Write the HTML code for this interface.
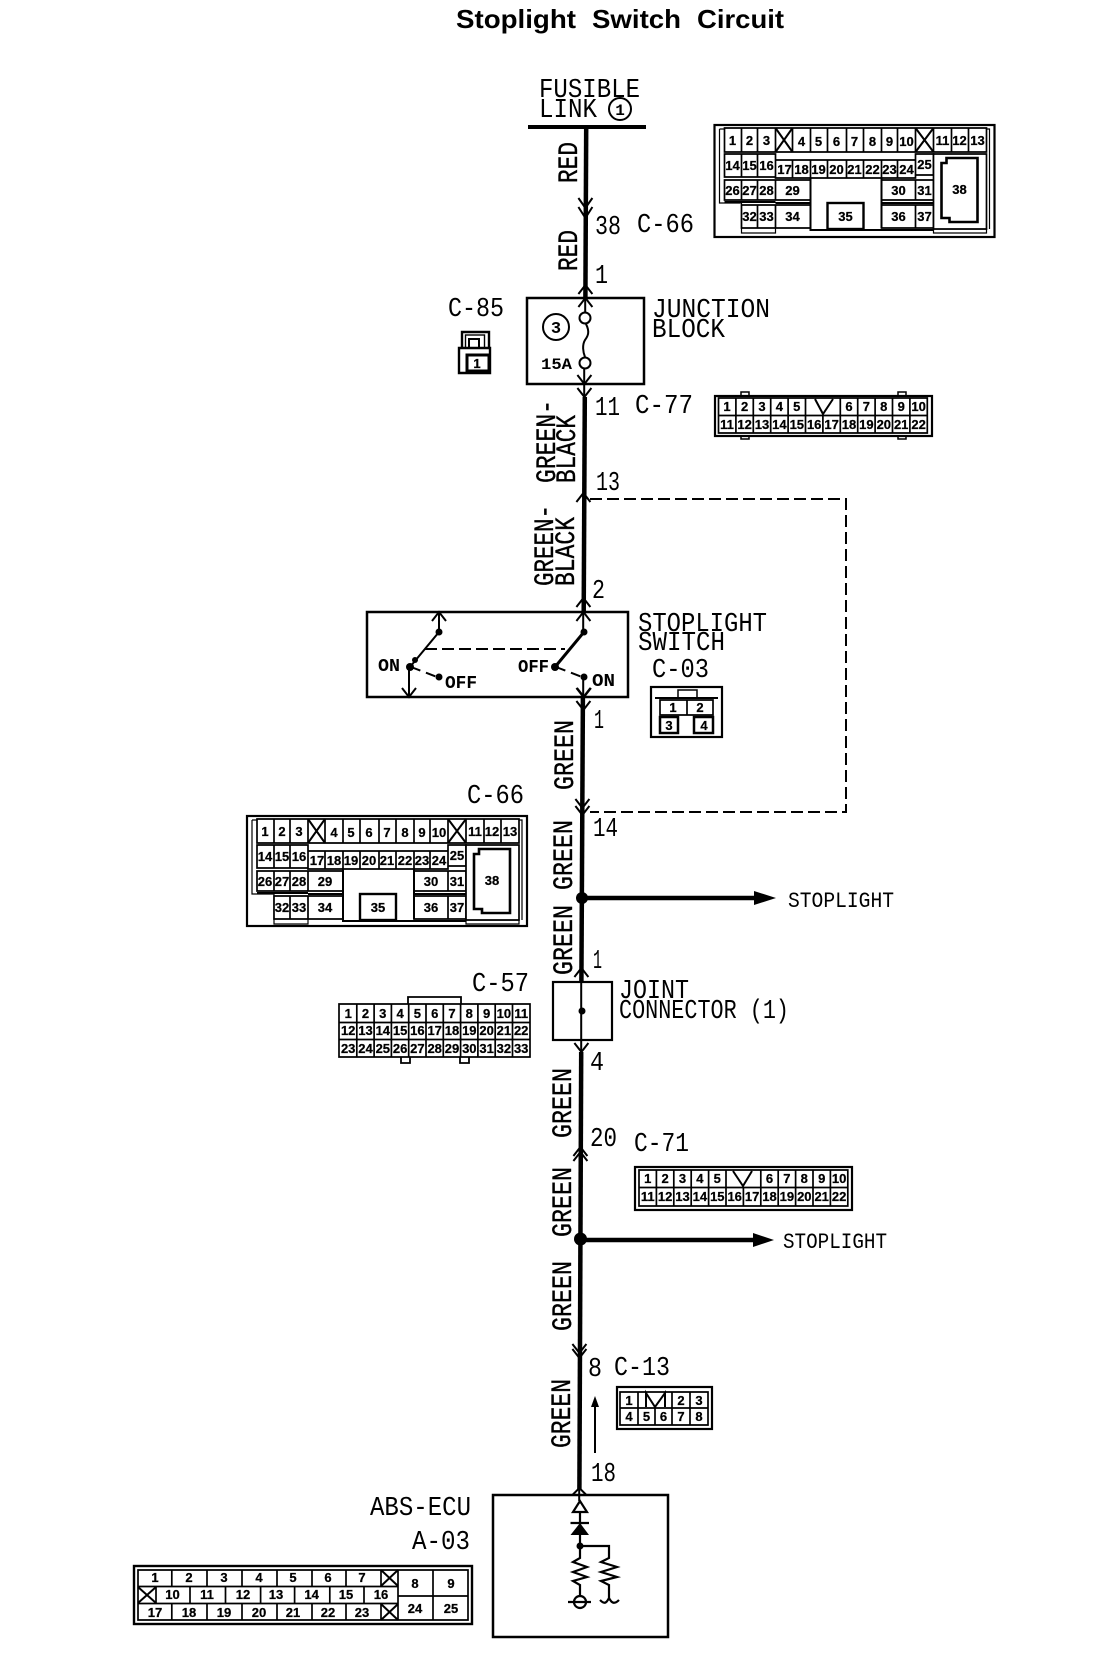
<!DOCTYPE html>
<html><head><meta charset="utf-8"><title>Stoplight Switch Circuit</title>
<style>
html,body{margin:0;padding:0;background:#fff}
svg{display:block}
text{fill:#000;font-family:"Liberation Mono",monospace}
.n{font-family:"Liberation Sans",sans-serif;font-weight:bold;font-size:13px;text-anchor:middle;stroke:#000;stroke-width:.25}
.w text{stroke:#000;stroke-width:.35}
.g{fill:#fff;stroke:#000;stroke-width:1.7}
.l{fill:none;stroke:#000;stroke-width:2}
.f{fill:none;stroke:#000;stroke-width:1.2}
</style></head><body>
<svg width="1120" height="1662" viewBox="0 0 1120 1662" xmlns="http://www.w3.org/2000/svg">
<rect width="1120" height="1662" fill="#fff"/>
<g font-size="26" style="font-weight:bold">
<text x="456" y="28" textLength="120" lengthAdjust="spacingAndGlyphs" style="font-family:'Liberation Sans',sans-serif">Stoplight</text>
<text x="592" y="28" textLength="89" lengthAdjust="spacingAndGlyphs" style="font-family:'Liberation Sans',sans-serif">Switch</text>
<text x="697" y="28" textLength="87" lengthAdjust="spacingAndGlyphs" style="font-family:'Liberation Sans',sans-serif">Circuit</text>
</g>

<text x="539" y="97" font-size="27" textLength="101" lengthAdjust="spacingAndGlyphs">FUSIBLE</text>
<text x="539" y="117" font-size="27" textLength="58" lengthAdjust="spacingAndGlyphs">LINK</text>
<circle cx="620" cy="109" r="11" class="l"/>
<text x="620" y="115" font-size="16" font-weight="bold" text-anchor="middle">1</text>
<rect x="528" y="125" width="118" height="4"/>

<!-- main wire -->
<g fill="none" stroke="#000" stroke-linecap="butt" transform="translate(-0.8,0)">
<path d="M587 127L586.2 298" stroke-width="4.5"/>
<path d="M585.6 397L584.5 612" stroke-width="4.5"/>
<path d="M583.7 697L582.2 982" stroke-width="4.5"/>
<path d="M582 1052L580.2 1490" stroke-width="4.5"/>
<path d="M586 298V312M585 369V397M584 612V632M584 677V697M582 982V1052M580 1490V1501" stroke-width="2"/>
</g>

<!-- chevrons -->
<path class="l" transform="translate(-0.6,0)" d="M579 198L586 208L593 198M579 207L586 218L593 207
M579 294L586 285L593 294M579 307L586 298L593 307
M578 375L585 384L592 375M578 388L585 397L592 388
M577 502L584 493L591 502
M577 607L584 598L591 607M577 621L584 612L591 621
M577 688L584 697L591 688M577 701L584 710L591 701
M576 799L583 808L590 799M576 806L583 815L590 806
M575 977L582 968L589 977
M575 1043L582 1052L589 1043
M574 1156L581 1147L588 1156M574 1161L581 1152L588 1161
M573 1344L580 1353L587 1344M573 1349L580 1358L587 1349
M573 1495L580 1488L587 1495"/>

<!-- wire labels -->
<g font-size="28" class="w">
<text transform="translate(577,183) rotate(-90)" textLength="41" lengthAdjust="spacingAndGlyphs">RED</text>
<text transform="translate(577,271) rotate(-90)" textLength="41" lengthAdjust="spacingAndGlyphs">RED</text>
<text transform="translate(555,483) rotate(-90)" textLength="83" lengthAdjust="spacingAndGlyphs">GREEN-</text>
<text transform="translate(575,483) rotate(-90)" textLength="68" lengthAdjust="spacingAndGlyphs">BLACK</text>
<text transform="translate(553,586) rotate(-90)" textLength="81" lengthAdjust="spacingAndGlyphs">GREEN-</text>
<text transform="translate(574,586) rotate(-90)" textLength="69" lengthAdjust="spacingAndGlyphs">BLACK</text>
<text transform="translate(573,790) rotate(-90)" textLength="70" lengthAdjust="spacingAndGlyphs">GREEN</text>
<text transform="translate(572,890) rotate(-90)" textLength="70" lengthAdjust="spacingAndGlyphs">GREEN</text>
<text transform="translate(572,975) rotate(-90)" textLength="70" lengthAdjust="spacingAndGlyphs">GREEN</text>
<text transform="translate(571,1138) rotate(-90)" textLength="70" lengthAdjust="spacingAndGlyphs">GREEN</text>
<text transform="translate(571,1237) rotate(-90)" textLength="70" lengthAdjust="spacingAndGlyphs">GREEN</text>
<text transform="translate(571,1331) rotate(-90)" textLength="70" lengthAdjust="spacingAndGlyphs">GREEN</text>
<text transform="translate(570,1448) rotate(-90)" textLength="69" lengthAdjust="spacingAndGlyphs">GREEN</text>
</g>

<!-- pin and connector labels -->
<g font-size="27">
<text x="595" y="234" textLength="26" lengthAdjust="spacingAndGlyphs">38</text>
<text x="637" y="232" textLength="57" lengthAdjust="spacingAndGlyphs">C-66</text>
<text x="595" y="283" textLength="13" lengthAdjust="spacingAndGlyphs">1</text>
<text x="448" y="316" textLength="56" lengthAdjust="spacingAndGlyphs">C-85</text>
<text x="652" y="317" textLength="118" lengthAdjust="spacingAndGlyphs">JUNCTION</text>
<text x="652" y="337" textLength="73" lengthAdjust="spacingAndGlyphs">BLOCK</text>
<text x="595" y="415" textLength="25" lengthAdjust="spacingAndGlyphs">11</text>
<text x="635" y="413" textLength="58" lengthAdjust="spacingAndGlyphs">C-77</text>
<text x="596" y="490" textLength="24" lengthAdjust="spacingAndGlyphs">13</text>
<text x="592" y="598" textLength="13" lengthAdjust="spacingAndGlyphs">2</text>
<text x="638" y="631" textLength="129" lengthAdjust="spacingAndGlyphs">STOPLIGHT</text>
<text x="638" y="650" textLength="87" lengthAdjust="spacingAndGlyphs">SWITCH</text>
<text x="652" y="677" textLength="57" lengthAdjust="spacingAndGlyphs">C-03</text>
<text x="594" y="728" textLength="10" lengthAdjust="spacingAndGlyphs">1</text>
<text x="467" y="803" textLength="57" lengthAdjust="spacingAndGlyphs">C-66</text>
<text x="593" y="836" textLength="25" lengthAdjust="spacingAndGlyphs">14</text>
<text x="593" y="968" textLength="9" lengthAdjust="spacingAndGlyphs">1</text>
<text x="472" y="991" textLength="57" lengthAdjust="spacingAndGlyphs">C-57</text>
<text x="619" y="998" textLength="70" lengthAdjust="spacingAndGlyphs">JOINT</text>
<text x="619" y="1018" textLength="170" lengthAdjust="spacingAndGlyphs">CONNECTOR (1)</text>
<text x="590" y="1070" textLength="14" lengthAdjust="spacingAndGlyphs">4</text>
<text x="590" y="1146" textLength="27" lengthAdjust="spacingAndGlyphs">20</text>
<text x="634" y="1151" textLength="55" lengthAdjust="spacingAndGlyphs">C-71</text>
<text x="588" y="1376" textLength="14" lengthAdjust="spacingAndGlyphs">8</text>
<text x="614" y="1375" textLength="56" lengthAdjust="spacingAndGlyphs">C-13</text>
<text x="591" y="1481" textLength="25" lengthAdjust="spacingAndGlyphs">18</text>
<text x="370" y="1515" textLength="101" lengthAdjust="spacingAndGlyphs">ABS-ECU</text>
<text x="412" y="1549" textLength="58" lengthAdjust="spacingAndGlyphs">A-03</text>
</g>
<g font-size="22">
<text x="788" y="907" textLength="106" lengthAdjust="spacingAndGlyphs">STOPLIGHT</text>
<text x="783" y="1248" textLength="104" lengthAdjust="spacingAndGlyphs">STOPLIGHT</text>
</g>

<!-- junction block -->
<rect x="527" y="298" width="117" height="86" fill="none" stroke="#000" stroke-width="2.5"/>
<circle cx="556" cy="327" r="13" class="l"/>
<text x="556" y="333" font-size="17" font-weight="bold" text-anchor="middle">3</text>
<circle cx="585" cy="318" r="5.5" class="l"/>
<circle cx="585" cy="363" r="5.5" class="l"/>
<path class="l" d="M586 324C590 332 588 336 585 340C582 345 583 352 585 357"/>
<text x="541" y="369" font-size="16" font-weight="bold" textLength="31" lengthAdjust="spacingAndGlyphs">15A</text>

<!-- C-85 -->
<path fill="none" stroke="#000" stroke-width="2.4" d="M462 348V332H489V348M459 348H490V373H459Z"/>
<rect x="465.5" y="335" width="19" height="13" class="l" style="stroke-width:1.4"/>
<rect x="469" y="339" width="10" height="9" class="l"/>
<rect x="467" y="355" width="22" height="16" fill="#fff" stroke="#000" stroke-width="3"/>
<text x="477" y="368" class="n">1</text>

<!-- dashed loop -->
<path fill="none" stroke="#000" stroke-width="2" stroke-dasharray="12 5" d="M590 499H846V812H590"/>

<!-- stoplight switch -->
<rect x="367" y="612" width="261" height="85" fill="none" stroke="#000" stroke-width="2.5"/>
<path class="l" d="M432 621L439 612L446 621M439 612V632M410 667L439 632M409 667V697M402 688L409 697L416 688
M577 688L584 697L591 688"/>
<path d="M555 667L584 632" stroke="#000" stroke-width="3" fill="none"/>
<path fill="none" stroke="#000" stroke-width="2" stroke-dasharray="12 5" d="M425 649H565"/>
<path fill="none" stroke="#000" stroke-width="2" stroke-dasharray="10 6" d="M411 667L437 677M556 667L582 677"/>
<g>
<circle cx="439" cy="632" r="3.5"/><circle cx="584" cy="632" r="3.5"/>
<circle cx="410" cy="667" r="4"/><circle cx="415" cy="660" r="3"/>
<circle cx="439" cy="677" r="3.5"/><circle cx="555" cy="667" r="4"/>
<circle cx="584" cy="677" r="3.5"/>
</g>
<g font-weight="bold" font-size="18">
<text x="378" y="671" textLength="22" lengthAdjust="spacingAndGlyphs">ON</text>
<text x="445" y="688" textLength="32" lengthAdjust="spacingAndGlyphs">OFF</text>
<text x="518" y="672" textLength="31" lengthAdjust="spacingAndGlyphs">OFF</text>
<text x="592" y="686" textLength="23" lengthAdjust="spacingAndGlyphs">ON</text>
</g>

<!-- C-03 -->
<rect x="651" y="687" width="71" height="50" fill="none" stroke="#000" stroke-width="2.2"/>
<rect x="678" y="690" width="19" height="8" class="l" style="stroke-width:1.5"/>
<path class="g" d="M660 700H713V715H660ZM687 700V715"/>
<rect x="660" y="717" width="18" height="16" fill="#fff" stroke="#000" stroke-width="2.5"/>
<rect x="694" y="717" width="19" height="16" fill="#fff" stroke="#000" stroke-width="2.5"/>
<path class="l" d="M655 698H718"/>
<text x="673" y="712" class="n">1</text><text x="700" y="712" class="n">2</text>
<text x="669" y="730" class="n">3</text><text x="704" y="730" class="n">4</text>

<!-- branches -->
<circle cx="582" cy="898" r="6"/>
<path d="M582 898H756" stroke="#000" stroke-width="4.5"/>
<path d="M754 891L776 898L754 905Z"/>
<circle cx="580.5" cy="1239" r="6.5"/>
<path d="M581 1240H755" stroke="#000" stroke-width="4.5"/>
<path d="M753 1233L774 1240L753 1247Z"/>

<!-- joint connector -->
<rect x="553" y="982" width="59" height="58" fill="none" stroke="#000" stroke-width="2.2"/>
<circle cx="582" cy="1011" r="3.5"/>

<!-- direction arrow -->
<path d="M595 1453V1405" stroke="#000" stroke-width="2"/>
<path d="M591 1407L595 1396L599 1407Z"/>

<!-- ABS ECU box -->
<rect x="493" y="1495" width="175" height="142" fill="none" stroke="#000" stroke-width="2.5"/>
<path fill="none" stroke="#000" stroke-width="2.2" d="M580 1501L573 1512H587ZM580 1512V1546M570.5 1523H589M580 1546H609V1558L601 1562L617 1567L601 1572L617 1577L601 1581L609 1585V1598M580 1546V1558L573 1562L587 1567L573 1572L587 1577L573 1581L580 1585V1597M568 1602H591M600 1600C604 1604 606 1604 609 1598C612 1604 615 1604 619 1600"/>
<path d="M570.5 1535H589L580 1523Z"/>
<circle cx="580" cy="1546" r="3.5"/>
<circle cx="580" cy="1602" r="6" fill="none" stroke="#000" stroke-width="2.2"/>

<!-- C-66 top -->
<g transform="translate(714.5,125)">
<rect width="280" height="112" fill="#fff" stroke="#000" stroke-width="2.2"/>
<path class="f" d="M5 4H275V104M219 104H272V108H219ZM5 4V78H27M27 78V108H61V103"/>
<path class="g" d="M10 3H272V27H10ZM27 3V27M43 3V27M61 3V27M78 3V27M96 3V27M113 3V27M132 3V27M149 3V27M167 3V27M183 3V27M201 3V27M219 3V27M237 3V27M254 3V27"/>
<path class="g" d="M10 29H61V52H10ZM27 29V52M43 29V52M61 35H201V53H61ZM78 35V53M96 35V53M113 35V53M132 35V53M149 35V53M167 35V53M183 35V53M201 29H219V50H201Z"/>
<path class="g" d="M10 55H61V75H10ZM27 55V75M43 55V75M61 55H96V75H61ZM167 55H201V75H167ZM201 55H219V75H201Z"/>
<path class="g" d="M27 80H96V103H27ZM43 80V103M61 80V103M167 80H201V103H167ZM201 80H219V103H201Z"/>
<path class="l" d="M96 53V105H219M167 53V103M10 77H61M61 78H96M167 78H219"/>
<rect x="113" y="78" width="36" height="26" fill="#fff" stroke="#000" stroke-width="2.4"/>
<path class="g" d="M219 29H272V104H219Z" style="fill:#fff"/>
<path fill="#fff" stroke="#000" stroke-width="2.6" d="M227 38H232V33H263V97H235V93H227Z"/>
<path fill="#fff" stroke="none" d="M62 28H79V34H62Z"/>
<path d="M61 3L78 27M78 3L61 27M201 3L219 27M219 3L201 27" stroke="#000" stroke-width="2"/>
<g>
<text x="18" y="20" class="n">1</text><text x="35" y="20" class="n">2</text><text x="52" y="20" class="n">3</text>
<text x="87" y="21" class="n">4</text><text x="104" y="21" class="n">5</text><text x="122" y="21" class="n">6</text><text x="140" y="21" class="n">7</text><text x="158" y="21" class="n">8</text><text x="175" y="21" class="n">9</text><text x="192" y="21" class="n">10</text>
<text x="228" y="20" class="n">11</text><text x="245" y="20" class="n">12</text><text x="263" y="20" class="n">13</text>
<text x="18" y="45" class="n">14</text><text x="35" y="45" class="n">15</text><text x="52" y="45" class="n">16</text>
<text x="70" y="49" class="n">17</text><text x="87" y="49" class="n">18</text><text x="104" y="49" class="n">19</text><text x="122" y="49" class="n">20</text><text x="140" y="49" class="n">21</text><text x="158" y="49" class="n">22</text><text x="175" y="49" class="n">23</text><text x="192" y="49" class="n">24</text>
<text x="210" y="44" class="n">25</text>
<text x="18" y="70" class="n">26</text><text x="35" y="70" class="n">27</text><text x="52" y="70" class="n">28</text><text x="78" y="70" class="n">29</text><text x="184" y="70" class="n">30</text><text x="210" y="70" class="n">31</text>
<text x="35" y="96" class="n">32</text><text x="52" y="96" class="n">33</text><text x="78" y="96" class="n">34</text><text x="131" y="96" class="n">35</text><text x="184" y="96" class="n">36</text><text x="210" y="96" class="n">37</text>
<text x="245" y="69" class="n">38</text>
</g>
</g>

<!-- C-66 lower -->
<g transform="translate(247,816)">
<rect width="280" height="110" fill="#fff" stroke="#000" stroke-width="2.2"/>
<path class="f" d="M5 4H275V104M219 104H272V108H219ZM5 4V78H27M27 78V108H61V103"/>
<path class="g" d="M10 3H272V27H10ZM27 3V27M43 3V27M61 3V27M78 3V27M96 3V27M113 3V27M132 3V27M149 3V27M167 3V27M183 3V27M201 3V27M219 3V27M237 3V27M254 3V27"/>
<path class="g" d="M10 29H61V52H10ZM27 29V52M43 29V52M61 35H201V53H61ZM78 35V53M96 35V53M113 35V53M132 35V53M149 35V53M167 35V53M183 35V53M201 29H219V50H201Z"/>
<path class="g" d="M10 55H61V75H10ZM27 55V75M43 55V75M61 55H96V75H61ZM167 55H201V75H167ZM201 55H219V75H201Z"/>
<path class="g" d="M27 80H96V103H27ZM43 80V103M61 80V103M167 80H201V103H167ZM201 80H219V103H201Z"/>
<path class="l" d="M96 53V105H219M167 53V103M10 77H61M61 78H96M167 78H219"/>
<rect x="113" y="78" width="36" height="26" fill="#fff" stroke="#000" stroke-width="2.4"/>
<path class="g" d="M219 29H272V104H219Z" style="fill:#fff"/>
<path fill="#fff" stroke="#000" stroke-width="2.6" d="M227 38H232V33H263V97H235V93H227Z"/>
<path fill="#fff" stroke="none" d="M62 28H79V34H62Z"/>
<path d="M61 3L78 27M78 3L61 27M201 3L219 27M219 3L201 27" stroke="#000" stroke-width="2"/>
<g>
<text x="18" y="20" class="n">1</text><text x="35" y="20" class="n">2</text><text x="52" y="20" class="n">3</text>
<text x="87" y="21" class="n">4</text><text x="104" y="21" class="n">5</text><text x="122" y="21" class="n">6</text><text x="140" y="21" class="n">7</text><text x="158" y="21" class="n">8</text><text x="175" y="21" class="n">9</text><text x="192" y="21" class="n">10</text>
<text x="228" y="20" class="n">11</text><text x="245" y="20" class="n">12</text><text x="263" y="20" class="n">13</text>
<text x="18" y="45" class="n">14</text><text x="35" y="45" class="n">15</text><text x="52" y="45" class="n">16</text>
<text x="70" y="49" class="n">17</text><text x="87" y="49" class="n">18</text><text x="104" y="49" class="n">19</text><text x="122" y="49" class="n">20</text><text x="140" y="49" class="n">21</text><text x="158" y="49" class="n">22</text><text x="175" y="49" class="n">23</text><text x="192" y="49" class="n">24</text>
<text x="210" y="44" class="n">25</text>
<text x="18" y="70" class="n">26</text><text x="35" y="70" class="n">27</text><text x="52" y="70" class="n">28</text><text x="78" y="70" class="n">29</text><text x="184" y="70" class="n">30</text><text x="210" y="70" class="n">31</text>
<text x="35" y="96" class="n">32</text><text x="52" y="96" class="n">33</text><text x="78" y="96" class="n">34</text><text x="131" y="96" class="n">35</text><text x="184" y="96" class="n">36</text><text x="210" y="96" class="n">37</text>
<text x="245" y="69" class="n">38</text>
</g>
</g>

<!-- C-77 -->
<rect x="715" y="396" width="217" height="40" fill="#fff" stroke="#000" stroke-width="2.2"/>
<path d="M741 396V392H749V396M898 396V392H906V396M741 436V439H749V436M898 436V439H906V436" class="l" style="stroke-width:1.5"/>
<path class="g" d="M718.5 398H927.3V433H718.5ZM718.5 415.5H927.3M735.9 398V433M753.3 398V433M770.7 398V433M788.1 398V433M805.5 398V433M822.9 415.5V433M840.3 398V433M857.7 398V433M875.1 398V433M892.5 398V433M909.9 398V433"/>
<path class="l" d="M815 399L823 414L833 399"/>
<g>
<text x="727" y="411" class="n">1</text><text x="744.6" y="411" class="n">2</text><text x="762" y="411" class="n">3</text><text x="779.4" y="411" class="n">4</text><text x="796.8" y="411" class="n">5</text><text x="849" y="411" class="n">6</text><text x="866.4" y="411" class="n">7</text><text x="883.8" y="411" class="n">8</text><text x="901.2" y="411" class="n">9</text><text x="918.6" y="411" class="n">10</text>
<text x="727" y="429" class="n">11</text><text x="744.6" y="429" class="n">12</text><text x="762" y="429" class="n">13</text><text x="779.4" y="429" class="n">14</text><text x="796.8" y="429" class="n">15</text><text x="814.2" y="429" class="n">16</text><text x="831.6" y="429" class="n">17</text><text x="849" y="429" class="n">18</text><text x="866.4" y="429" class="n">19</text><text x="883.8" y="429" class="n">20</text><text x="901.2" y="429" class="n">21</text><text x="918.6" y="429" class="n">22</text>
</g>

<!-- C-57 -->
<path class="l" d="M408 1004V997H461V1004M401 1057V1063H410V1057M460 1057V1063H469V1057" style="stroke-width:1.8"/>
<path class="g" d="M339 1004H530V1057H339ZM339 1022.5H530M339 1039.5H530M356.8 1004V1057M374.1 1004V1057M391.4 1004V1057M408.7 1004V1057M426 1004V1057M443.3 1004V1057M460.6 1004V1057M477.9 1004V1057M495.2 1004V1057M512.5 1004V1057"/>
<g>
<text x="348.2" y="1018" class="n">1</text><text x="365.5" y="1018" class="n">2</text><text x="382.8" y="1018" class="n">3</text><text x="400.1" y="1018" class="n">4</text><text x="417.4" y="1018" class="n">5</text><text x="434.7" y="1018" class="n">6</text><text x="452" y="1018" class="n">7</text><text x="469.3" y="1018" class="n">8</text><text x="486.6" y="1018" class="n">9</text><text x="503.9" y="1018" class="n">10</text><text x="521.2" y="1018" class="n">11</text>
<text x="348.2" y="1035" class="n">12</text><text x="365.5" y="1035" class="n">13</text><text x="382.8" y="1035" class="n">14</text><text x="400.1" y="1035" class="n">15</text><text x="417.4" y="1035" class="n">16</text><text x="434.7" y="1035" class="n">17</text><text x="452" y="1035" class="n">18</text><text x="469.3" y="1035" class="n">19</text><text x="486.6" y="1035" class="n">20</text><text x="503.9" y="1035" class="n">21</text><text x="521.2" y="1035" class="n">22</text>
<text x="348.2" y="1053" class="n">23</text><text x="365.5" y="1053" class="n">24</text><text x="382.8" y="1053" class="n">25</text><text x="400.1" y="1053" class="n">26</text><text x="417.4" y="1053" class="n">27</text><text x="434.7" y="1053" class="n">28</text><text x="452" y="1053" class="n">29</text><text x="469.3" y="1053" class="n">30</text><text x="486.6" y="1053" class="n">31</text><text x="503.9" y="1053" class="n">32</text><text x="521.2" y="1053" class="n">33</text>
</g>

<!-- C-71 -->
<rect x="635" y="1167" width="217" height="43" fill="#fff" stroke="#000" stroke-width="2.2"/>
<path class="g" d="M639 1170H847.8V1206H639ZM639 1187.5H847.8M656.4 1170V1206M673.8 1170V1206M691.2 1170V1206M708.6 1170V1206M726 1170V1206M743.4 1187.5V1206M760.8 1170V1206M778.2 1170V1206M795.6 1170V1206M813 1170V1206M830.4 1170V1206"/>
<path class="l" d="M733 1171L743 1186L752 1171"/>
<g>
<text x="647.7" y="1183" class="n">1</text><text x="665.1" y="1183" class="n">2</text><text x="682.5" y="1183" class="n">3</text><text x="699.9" y="1183" class="n">4</text><text x="717.3" y="1183" class="n">5</text><text x="769.5" y="1183" class="n">6</text><text x="786.9" y="1183" class="n">7</text><text x="804.3" y="1183" class="n">8</text><text x="821.7" y="1183" class="n">9</text><text x="839.1" y="1183" class="n">10</text>
<text x="647.7" y="1201" class="n">11</text><text x="665.1" y="1201" class="n">12</text><text x="682.5" y="1201" class="n">13</text><text x="699.9" y="1201" class="n">14</text><text x="717.3" y="1201" class="n">15</text><text x="734.7" y="1201" class="n">16</text><text x="752.1" y="1201" class="n">17</text><text x="769.5" y="1201" class="n">18</text><text x="786.9" y="1201" class="n">19</text><text x="804.3" y="1201" class="n">20</text><text x="821.7" y="1201" class="n">21</text><text x="839.1" y="1201" class="n">22</text>
</g>

<!-- C-13 -->
<rect x="617" y="1387" width="95" height="42" fill="#fff" stroke="#000" stroke-width="2.2"/>
<path class="g" d="M620 1392H708V1425H620ZM620 1408H708M638 1392V1425M655 1408V1425M672 1392V1425M690 1392V1425"/>
<path class="l" d="M646 1407V1393L655 1407L665 1393V1407"/>
<g>
<text x="629" y="1405" class="n">1</text><text x="681" y="1405" class="n">2</text><text x="699" y="1405" class="n">3</text>
<text x="629" y="1421" class="n">4</text><text x="646.5" y="1421" class="n">5</text><text x="663.5" y="1421" class="n">6</text><text x="681" y="1421" class="n">7</text><text x="699" y="1421" class="n">8</text>
</g>

<!-- A-03 -->
<rect x="134" y="1566" width="338" height="58" fill="#fff" stroke="#000" stroke-width="2.4"/>
<path class="g" d="M138 1570H398V1620H138ZM138 1586.5H398M138 1603.5H398
M171.8 1570V1586.5M207 1570V1586.5M242 1570V1586.5M277 1570V1586.5M312 1570V1586.5M346 1570V1586.5M381 1570V1586.5
M156 1586.5V1603.5M190 1586.5V1603.5M225.5 1586.5V1603.5M260.6 1586.5V1603.5M294.6 1586.5V1603.5M329.8 1586.5V1603.5M364 1586.5V1603.5
M171.8 1603.5V1620M207 1603.5V1620M242 1603.5V1620M277 1603.5V1620M312 1603.5V1620M346 1603.5V1620M381 1603.5V1620
M398 1570H468V1620H398ZM398 1596H468M433 1570V1620"/>
<path d="M381 1570L398 1586M398 1570L381 1586M138 1587L156 1603M156 1587L138 1603M381 1604L398 1620M398 1604L381 1620" stroke="#000" stroke-width="2"/>
<g>
<text x="155" y="1582" class="n">1</text><text x="189" y="1582" class="n">2</text><text x="224" y="1582" class="n">3</text><text x="259" y="1582" class="n">4</text><text x="293" y="1582" class="n">5</text><text x="328" y="1582" class="n">6</text><text x="362" y="1582" class="n">7</text>
<text x="172.5" y="1599" class="n">10</text><text x="207" y="1599" class="n">11</text><text x="243" y="1599" class="n">12</text><text x="276" y="1599" class="n">13</text><text x="311.6" y="1599" class="n">14</text><text x="346" y="1599" class="n">15</text><text x="381" y="1599" class="n">16</text>
<text x="155" y="1617" class="n">17</text><text x="189" y="1617" class="n">18</text><text x="224" y="1617" class="n">19</text><text x="259" y="1617" class="n">20</text><text x="293" y="1617" class="n">21</text><text x="328" y="1617" class="n">22</text><text x="362" y="1617" class="n">23</text>
<text x="415" y="1588" class="n">8</text><text x="451" y="1588" class="n">9</text><text x="415" y="1613" class="n">24</text><text x="451" y="1613" class="n">25</text>
</g>
</svg>
</body></html>
